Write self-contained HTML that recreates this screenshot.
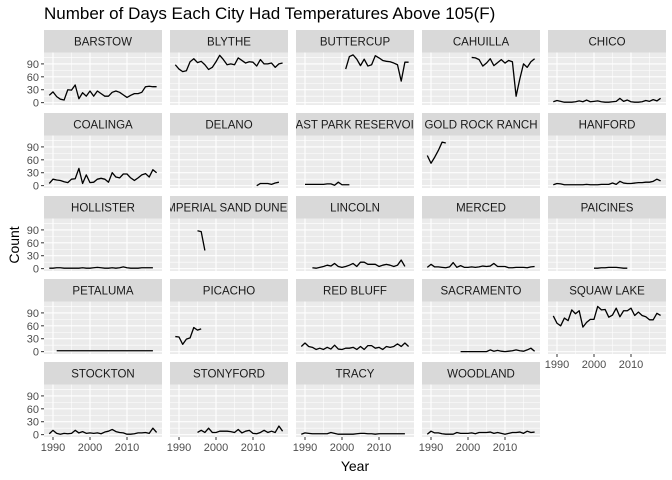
<!DOCTYPE html>
<html><head><meta charset="utf-8"><style>
html,body{margin:0;padding:0;background:#fff;}
svg{display:block;font-family:"Liberation Sans",Arial,sans-serif;}
</style></head><body>
<svg id="chart" width="672" height="480" viewBox="0 0 672 480">
<text x="44" y="19" font-size="17" fill="#000">Number of Days Each City Had Temperatures Above 105(F)</text>
<text x="0" y="0" transform="translate(19,245) rotate(-90)" font-size="14" text-anchor="middle" fill="#000">Count</text>
<text x="355" y="471" font-size="14" text-anchor="middle" fill="#000">Year</text>
</svg>
<script>
const cities = ["BARSTOW","BLYTHE","BUTTERCUP","CAHUILLA","CHICO","COALINGA","DELANO","EAST PARK RESERVOIR","GOLD ROCK RANCH","HANFORD","HOLLISTER","IMPERIAL SAND DUNES","LINCOLN","MERCED","PAICINES","PETALUMA","PICACHO","RED BLUFF","SACRAMENTO","SQUAW LAKE","STOCKTON","STONYFORD","TRACY","WOODLAND"];
const startYears = [1989,1989,2001,2001,1989,1989,2011,1990,1989,1989,1989,1995,1992,1989,2000,1991,1989,1989,1998,1989,1989,1995,1989,1989];
const counts = [
[17,25,14,8,6,30,29,41,9,23,15,27,15,27,21,15,15,24,27,24,18,12,17,21,21,24,37,38,37,37],
[88,78,72,74,95,102,93,96,88,77,82,95,110,100,88,90,88,104,98,92,95,94,85,100,90,90,92,82,90,92],
[78,107,111,101,86,101,85,88,109,104,98,96,95,92,88,50,94,94],
[105,104,100,85,92,102,86,93,100,92,98,95,15,55,90,82,95,102],
[2,5,3,1,1,1,2,4,2,6,2,3,4,2,1,1,2,3,10,3,6,2,1,1,2,5,3,7,4,10],
[5,15,13,12,9,7,15,16,40,5,25,7,8,15,17,15,8,30,20,18,27,27,18,12,18,25,28,20,37,30],
[0,5,5,5,3,6,8],
[3,3,3,3,3,3,4,4,1,8,2,2,2],
[70,52,66,82,101,99],
[2,5,4,2,2,2,2,2,2,3,2,2,2,3,3,3,6,3,10,6,5,5,6,7,7,8,8,10,15,11],
[1,1,2,2,1,1,1,1,1,2,1,1,2,3,2,1,1,2,1,2,4,2,1,1,1,2,2,2,2],
[88,86,42],
[2,1,3,5,8,6,12,5,3,5,8,12,5,15,15,10,10,10,5,8,10,8,5,8,20,5],
[3,10,4,4,3,2,4,14,3,7,3,3,4,3,4,6,5,6,12,5,5,5,2,2,3,3,3,2,4,5],
[1,1,2,2,3,3,3,2,1,1],
[2,2,2,2,2,2,2,2,2,2,2,2,2,2,2,2,2,2,2,2,2,2,2,2,2,2,2],
[35,34,17,29,32,56,50,53],
[12,20,12,10,5,8,5,10,6,15,6,5,8,8,10,5,12,5,14,14,8,10,5,12,10,12,18,12,20,12],
[0,0,0,0,0,0,0,0,4,1,3,1,0,1,2,4,2,1,4,8,1],
[83,66,60,78,72,97,88,95,57,68,75,75,105,97,98,80,85,101,81,95,95,101,84,92,84,81,74,74,89,84],
[2,10,3,1,3,2,3,10,4,7,3,4,3,4,2,6,8,12,7,5,4,1,1,2,4,4,5,3,15,5],
[5,10,5,15,5,5,8,8,8,7,5,12,4,8,10,3,2,5,10,5,8,5,20,8],
[1,4,3,2,2,2,2,2,5,3,1,1,1,1,1,2,3,3,2,2,1,2,2,2,2,2,2,2,2],
[1,8,4,4,2,1,1,1,5,3,3,3,4,2,5,5,5,6,3,5,3,1,3,5,5,6,3,8,5,6]
];
const yTicks = [0,30,60,90];
const yMinor = [15,45,75,105];
const xTicks = [1990,2000,2010];
const xMinor = [1995,2005,2015];

const NS = "http://www.w3.org/2000/svg";
const svg = document.getElementById("chart");
const colX0 = 44, colPitch = 126, pw = 118;
const rowY0 = 30, rowPitch = 83, stripH = 22.5, ph = 52.5;
const xMin = 1987.57, xMax = 2019.46, yMin = -5.5, yMax = 116.5;
function mk(tag, attrs){const e=document.createElementNS(NS,tag);for(const k in attrs)e.setAttribute(k,attrs[k]);return e;}
function xs(left, yr){return left + (yr - xMin) / (xMax - xMin) * pw;}
function ys(top, v){return top + ph - (v - yMin) / (yMax - yMin) * ph;}

cities.forEach((name, i) => {
  const col = i % 5, row = Math.floor(i / 5);
  const left = colX0 + col * colPitch;
  const sTop = rowY0 + row * rowPitch;
  const top = sTop + stripH;
  const g = mk("g", {});
  
  
  svg.appendChild(g);
  const strip = mk("svg", {x:left, y:sTop, width:pw, height:stripH, overflow:"hidden"});
  
  
  strip.appendChild(mk("rect", {x:0, y:0, width:pw, height:stripH, fill:"#d9d9d9"}));
  const st = mk("text", {x:pw/2, y:15.5, "font-size":"11.5", "text-anchor":"middle", fill:"#1a1a1a"});
  st.textContent = name;
  
  
  strip.appendChild(st);
  g.appendChild(strip);
  const bg = mk("rect", {x:left, y:top, width:pw, height:ph, fill:"#ebebeb"});
  
  
  g.appendChild(bg);
  yMinor.forEach(v => g.appendChild(mk("line", {x1:left, x2:left+pw, y1:ys(top,v), y2:ys(top,v), stroke:"#fff", "stroke-width":"0.55"})));
  xMinor.forEach(v => g.appendChild(mk("line", {x1:xs(left,v), x2:xs(left,v), y1:top, y2:top+ph, stroke:"#fff", "stroke-width":"0.55"})));
  yTicks.forEach(v => g.appendChild(mk("line", {x1:left, x2:left+pw, y1:ys(top,v), y2:ys(top,v), stroke:"#fff", "stroke-width":"1.1"})));
  xTicks.forEach(v => g.appendChild(mk("line", {x1:xs(left,v), x2:xs(left,v), y1:top, y2:top+ph, stroke:"#fff", "stroke-width":"1.1"})));
  const vals = counts[i];
  const pts = vals.map((v, j) => xs(left, startYears[i] + j).toFixed(2) + "," + ys(top, v).toFixed(2)).join(" ");
  const pl = mk("polyline", {points:pts, fill:"none", stroke:"#000", "stroke-width":"1.3", "stroke-linejoin":"round"});
  
  
  g.appendChild(pl);
  if (col === 0) {
    yTicks.forEach(v => {
      const y = ys(top, v);
      g.appendChild(mk("line", {x1:left-3, x2:left, y1:y, y2:y, stroke:"#333", "stroke-width":"1"}));
      const t = mk("text", {x:left-5, y:y+4, "font-size":"11", "text-anchor":"end", fill:"#4d4d4d"});
      t.textContent = v;
      
      
      g.appendChild(t);
    });
  }
  if (row === 4 || (row === 3 && col === 4)) {
    xTicks.forEach(v => {
      const x = xs(left, v);
      g.appendChild(mk("line", {x1:x, x2:x, y1:top+ph, y2:top+ph+3, stroke:"#333", "stroke-width":"1"}));
      const t = mk("text", {x:x, y:top+ph+14, "font-size":"11", "text-anchor":"middle", fill:"#4d4d4d"});
      t.textContent = v;
      
      
      g.appendChild(t);
    });
  }
});
</script>
</body></html>
